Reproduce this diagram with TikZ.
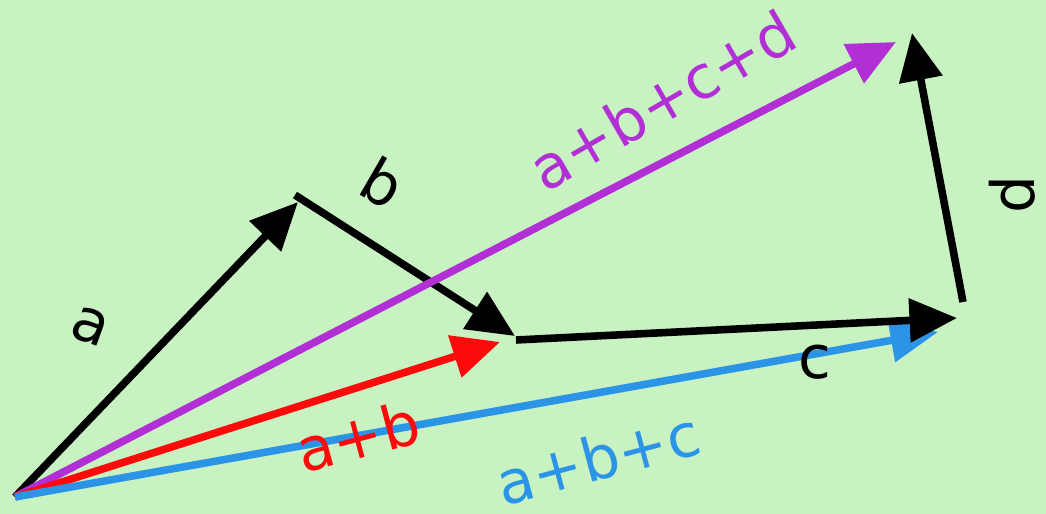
\documentclass[tikz,border=0pt]{standalone}
\usepackage{fontspec}
\setmainfont{DejaVu Sans}
\usetikzlibrary{arrows.meta}
\definecolor{paper}{HTML}{C8F2C2}
\definecolor{sumpurple}{HTML}{B22FD6}
\definecolor{sumred}{HTML}{FF0A0A}
\definecolor{sumblue}{HTML}{2C94E6}
\begin{document}
\begin{tikzpicture}[x=0.02cm, y=-0.02cm,
    vec/.style={line width=4.3pt, -{Triangle[length=0.95cm,width=0.85cm]}},
    lbl/.style={font=\fontsize{34}{34}\selectfont, inner sep=0pt}]
    \useasboundingbox (0,0) rectangle (1046,514);
    \fill[paper] (0,0) rectangle (1046,514);
    % points of the polygon
    \coordinate (o) at (15,497);
    \coordinate (ta) at (298,202);
    \coordinate (sb) at (295,195);
    \coordinate (tb) at (515,336);
    \coordinate (sc) at (516,340);
    \coordinate (tc) at (957,318);
    \coordinate (sd) at (963,302);
    \coordinate (td) at (912,33);
    \coordinate (tabcd) at (896,42);
    \coordinate (tab) at (500,342);
    \coordinate (tabc) at (938,332);
    % a, b
    \draw[vec] (o) -- (ta);
    \draw[vec] (sb) -- (tb);
    % sums
    \draw[vec, sumpurple] (o) -- (tabcd);
    \draw[vec, sumred] (o) -- (tab);
    \draw[vec, sumblue] (o) -- (tabc);
    % c, d
    \draw[vec] (sc) -- (tc);
    \draw[vec] (sd) -- (td);
    % labels
    \node[lbl, rotate=-20] (la) at (90,326) {a};
    \node[lbl, rotate=-30] (lb) at (383,183) {b};
    \node[lbl] (lc) at (815,362) {c};
    \node[lbl, rotate=90] (ld) at (1012,195) {d};
    \node[lbl, sumpurple, rotate=30] (labcd) at (662,100) {a+b+c+d};
    \node[lbl, sumred, rotate=15] (lab) at (358,436) {a+b};
    \node[lbl, sumblue, rotate=15] (labc) at (598,458) {a+b+c};
\end{tikzpicture}
\end{document}
